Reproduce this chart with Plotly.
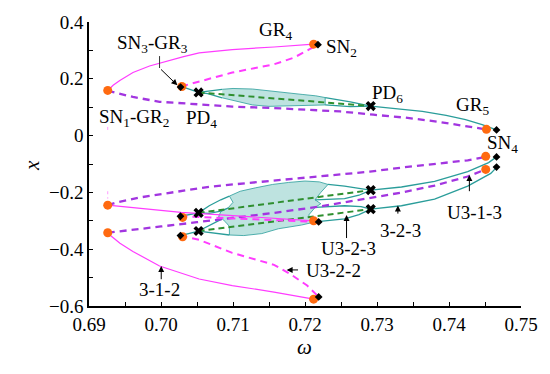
import plotly.graph_objects as go

# ---------------- data ----------------
# upper component
MAG_U_W = [0.6926, 0.69335, 0.69428, 0.69611, 0.69841, 0.70072, 0.70301, 0.7053, 0.7099, 0.7157, 0.7212]
MAG_U_X = [0.159, 0.177, 0.194, 0.222, 0.245, 0.262, 0.277, 0.291, 0.303, 0.312, 0.322]
MAGD_U_W = [0.7028, 0.7099, 0.7157, 0.7185, 0.7207, 0.7218]
MAGD_U_X = [0.173, 0.222, 0.251, 0.275, 0.305, 0.320]
PUR_U_W = [0.6926, 0.6929, 0.6961, 0.6998, 0.7053, 0.7099, 0.7157, 0.7202, 0.7249, 0.7295, 0.7340, 0.7387, 0.7432, 0.7451]
PUR_U_X = [0.159, 0.156, 0.136, 0.119, 0.110, 0.102, 0.097, 0.091, 0.085, 0.0735, 0.063, 0.048, 0.031, 0.022]
TEAL_U_HEAD_W = [0.7028, 0.70522]
TEAL_U_HEAD_X = [0.173, 0.152]
TEAL_U_TAIL_W = [0.72913, 0.7340, 0.7363, 0.7396, 0.7423, 0.7446, 0.7466]
TEAL_U_TAIL_X = [0.104, 0.091, 0.085, 0.071, 0.056, 0.039, 0.020]
GRN_U_W = [0.70522, 0.72913]
GRN_U_X = [0.152, 0.104]
LENS_U = [
    ([0.70522, 0.7065, 0.7085], [0.152, 0.157, 0.163]),
    ([0.70522, 0.7065, 0.7085], [0.152, 0.148, 0.133]),
    ([0.7228, 0.7263, 0.72913], [0.134, 0.119, 0.104]),
    ([0.7228, 0.7263, 0.72913], [0.108, 0.102, 0.104]),
]
CHAOS_U_W = [0.7085, 0.7100, 0.7127, 0.7150, 0.7175, 0.7196, 0.7215, 0.7228,
             0.7228, 0.7215, 0.7196, 0.7175, 0.7150, 0.7127, 0.7100, 0.7085]
CHAOS_U_X = [0.163, 0.166, 0.164, 0.157, 0.151, 0.145, 0.140, 0.134,
             0.108, 0.107, 0.107, 0.104, 0.103, 0.108, 0.125, 0.133]

# lower component A
MAG_A_W = [0.6926, 0.6975, 0.7028, 0.7100, 0.7150, 0.7212]
MAG_A_X = [-0.245, -0.258, -0.270, -0.282, -0.290, -0.300]
MAGD_A_W = [0.7027, 0.7100, 0.7160, 0.7219]
MAGD_A_X = [-0.284, -0.292, -0.298, -0.304]
PUR_A_W = [0.6926, 0.6938, 0.6970, 0.7016, 0.7067, 0.7150, 0.7220, 0.7290, 0.7333, 0.7380, 0.7426, 0.7452]
PUR_A_X = [-0.245, -0.236, -0.218, -0.200, -0.180, -0.160, -0.143, -0.127, -0.113, -0.101, -0.087, -0.075]
TEAL_A_HEAD_W = [0.7027, 0.70522]
TEAL_A_HEAD_X = [-0.284, -0.272]
TEAL_A_TAIL_W = [0.72913, 0.7334, 0.7380, 0.7426, 0.7455, 0.7466]
TEAL_A_TAIL_X = [-0.192, -0.181, -0.161, -0.127, -0.095, -0.075]
GRN_A_W = [0.70522, 0.72913]
GRN_A_X = [-0.272, -0.192]

# lower component B
MAG_B_W = [0.6926, 0.6929, 0.6943, 0.6961, 0.6998, 0.7053, 0.7099, 0.7157, 0.7212]
MAG_B_X = [-0.342, -0.350, -0.379, -0.408, -0.459, -0.505, -0.528, -0.551, -0.576]
MAGD_B_W = [0.7027, 0.7053, 0.7099, 0.7157, 0.7180, 0.7203, 0.7219]
MAGD_B_X = [-0.352, -0.367, -0.413, -0.455, -0.488, -0.528, -0.568]
PUR_B_W = [0.6926, 0.6950, 0.7000, 0.7050, 0.7100, 0.7157, 0.7220, 0.7288, 0.7333, 0.7380, 0.7426, 0.7451]
PUR_B_X = [-0.342, -0.334, -0.320, -0.305, -0.290, -0.272, -0.250, -0.222, -0.201, -0.176, -0.144, -0.119]
TEAL_B_HEAD_W = [0.7027, 0.70522]
TEAL_B_HEAD_X = [-0.352, -0.336]
TEAL_B_TAIL_W = [0.72913, 0.7334, 0.7380, 0.7426, 0.7458, 0.7466]
TEAL_B_TAIL_X = [-0.259, -0.247, -0.224, -0.178, -0.133, -0.112]
GRN_B_W = [0.70522, 0.72913]
GRN_B_X = [-0.336, -0.259]

LENS_L = [
    ([0.70522, 0.7067, 0.7083, 0.7095], [-0.272, -0.247, -0.226, -0.213]),
    ([0.70522, 0.7067, 0.7083, 0.7093], [-0.272, -0.274, -0.266, -0.255]),
    ([0.70522, 0.7067, 0.7085], [-0.336, -0.316, -0.293]),
    ([0.70522, 0.7067, 0.7083, 0.7095], [-0.336, -0.340, -0.346, -0.350]),
    ([0.7232, 0.7255, 0.7275, 0.72913], [-0.172, -0.178, -0.186, -0.192]),
    ([0.7214, 0.7255, 0.7275, 0.72913], [-0.226, -0.222, -0.210, -0.192]),
    ([0.7214, 0.7255, 0.7278, 0.72913], [-0.253, -0.247, -0.250, -0.259]),
    ([0.7214, 0.7255, 0.7275, 0.72913], [-0.304, -0.293, -0.278, -0.259]),
]
CHAOS_L_W = [0.7095, 0.7110, 0.7131, 0.7155, 0.7177, 0.7200, 0.7220, 0.7232,
             0.7222, 0.7214, 0.7222, 0.7214, 0.7205, 0.7214,
             0.7195, 0.7163, 0.7140, 0.7115, 0.7095,
             0.7095, 0.7090, 0.7085, 0.7080, 0.7083, 0.7093, 0.7100, 0.7095]
CHAOS_L_X = [-0.213, -0.196, -0.184, -0.172, -0.165, -0.160, -0.163, -0.172,
             -0.200, -0.226, -0.240, -0.253, -0.280, -0.304,
             -0.315, -0.328, -0.345, -0.352, -0.350,
             -0.320, -0.305, -0.293, -0.285, -0.268, -0.255, -0.235, -0.213]

# special points
GR_W = [0.6926, 0.7029, 0.7212, 0.7452, 0.6926, 0.6926, 0.7030, 0.7030, 0.7212, 0.7212, 0.7451, 0.7451]
GR_X = [0.159, 0.173, 0.322, 0.022, -0.245, -0.342, -0.288, -0.356, -0.300, -0.576, -0.073, -0.119]
SN_W = [0.70272, 0.7218, 0.7466, 0.7027, 0.7027, 0.7219, 0.7219, 0.7466, 0.7466]
SN_X = [0.171, 0.320, 0.020, -0.284, -0.352, -0.304, -0.568, -0.075, -0.111]
PD_W = [0.70522, 0.72913, 0.70522, 0.70522, 0.72913, 0.72913]
PD_X = [0.152, 0.104, -0.272, -0.336, -0.192, -0.259]

# faint dotted remnants at the left turning point
FAINT_W = [[0.6926, 0.6926], [0.6926, 0.6926]]
FAINT_X = [[0.020, 0.032], [-0.196, -0.222]]

XTICKS = [0.69, 0.70, 0.71, 0.72, 0.73, 0.74, 0.75]
XTICKTEXT = ["0.69", "0.70", "0.71", "0.72", "0.73", "0.74", "0.75"]
YTICKS = [-0.6, -0.4, -0.2, 0.0, 0.2, 0.4]
YTICKTEXT = ["\u22120.6", "\u22120.4", "\u22120.2", "0", "0.2", "0.4"]
XMINOR = [0.695, 0.705, 0.715, 0.725, 0.735, 0.745]
YMINOR = [-0.5, -0.3, -0.1, 0.1, 0.3]

# labels: (text, omega, x)
LABELS = [
    ("GR<sub>4</sub>", 0.7159, 0.369),
    ("SN<sub>2</sub>", 0.7251, 0.307),
    ("SN<sub>3</sub>-GR<sub>3</sub>", 0.6988, 0.321),
    ("SN<sub>1</sub>-GR<sub>2</sub>", 0.6962, 0.063),
    ("PD<sub>4</sub>", 0.7056, 0.060),
    ("PD<sub>6</sub>", 0.7315, 0.146),
    ("GR<sub>5</sub>", 0.7432, 0.104),
    ("SN<sub>4</sub>", 0.7474, -0.030),
    ("U3-1-3", 0.7435, -0.270),
    ("3-2-3", 0.7333, -0.335),
    ("U3-2-3", 0.7260, -0.397),
    ("U3-2-2", 0.7239, -0.476),
    ("3-1-2", 0.6998, -0.542),
]
# arrows: (head_w, head_x, tail_w, tail_x)
ARROWS = [
    (0.70228, 0.177, 0.6998, 0.238),
    (0.74283, -0.139, 0.74283, -0.201),
    (0.7329, -0.246, 0.7329, -0.280),
    (0.72577, -0.280, 0.72577, -0.366),
    (0.71745, -0.473, 0.71924, -0.473),
    (0.70003, -0.459, 0.70003, -0.511),
]
LEADER_W = [0.6998, 0.6998]
LEADER_X = [0.280, 0.238]

# ---------------- styles ----------------
MAGENTA = "#ff3cff"
PURPLE = "#a235e0"
TEAL = "#2a9d9a"
GREEN = "#2f8f2f"
ORANGE = "#ff6a10"
FONT = "Liberation Serif, DejaVu Serif, serif"

fig = go.Figure()

def line(w, x, color, width, dash="solid", opacity=1.0):
    fig.add_trace(go.Scatter(x=w, y=x, mode="lines", opacity=opacity,
                             line=dict(color=color, width=width, dash=dash),
                             hoverinfo="skip"))

# chaotic clouds
for cw, cx in [(CHAOS_U_W, CHAOS_U_X), (CHAOS_L_W, CHAOS_L_X)]:
    fig.add_trace(go.Scatter(x=cw, y=cx, mode="lines", fill="toself",
                             fillcolor="rgba(110,192,187,0.45)",
                             line=dict(color=TEAL, width=0.8), hoverinfo="skip"))

for f_w, f_x in zip(FAINT_W, FAINT_X):
    line(f_w, f_x, MAGENTA, 1, "dot", 0.5)

# teal stable branches
for w, x in [(TEAL_U_HEAD_W, TEAL_U_HEAD_X), (TEAL_U_TAIL_W, TEAL_U_TAIL_X),
             (TEAL_A_HEAD_W, TEAL_A_HEAD_X), (TEAL_A_TAIL_W, TEAL_A_TAIL_X),
             (TEAL_B_HEAD_W, TEAL_B_HEAD_X), (TEAL_B_TAIL_W, TEAL_B_TAIL_X)] + LENS_U + LENS_L:
    line(w, x, TEAL, 1.3)

# green unstable period-1 inside PD regions
for w, x in [(GRN_U_W, GRN_U_X), (GRN_A_W, GRN_A_X), (GRN_B_W, GRN_B_X)]:
    line(w, x, GREEN, 2, "6px,4px")

# purple dashed
for w, x in [(PUR_U_W, PUR_U_X), (PUR_A_W, PUR_A_X), (PUR_B_W, PUR_B_X)]:
    line(w, x, PURPLE, 2.3, "7px,5px")

# magenta
for w, x in [(MAG_U_W, MAG_U_X), (MAG_A_W, MAG_A_X), (MAG_B_W, MAG_B_X)]:
    line(w, x, MAGENTA, 1.2)
for w, x in [(MAGD_U_W, MAGD_U_X), (MAGD_A_W, MAGD_A_X), (MAGD_B_W, MAGD_B_X)]:
    line(w, x, MAGENTA, 2, "7px,5px")

# markers
fig.add_trace(go.Scatter(x=GR_W, y=GR_X, mode="markers",
                         marker=dict(color=ORANGE, size=9, symbol="circle"), hoverinfo="skip"))
fig.add_trace(go.Scatter(x=SN_W, y=SN_X, mode="markers",
                         marker=dict(color="black", size=6, symbol="diamond"), hoverinfo="skip"))
fig.add_trace(go.Scatter(x=PD_W, y=PD_X, mode="markers",
                         marker=dict(color="black", size=9, symbol="x"), hoverinfo="skip"))

# leader line of the bent arrow
line(LEADER_W, LEADER_X, "#333333", 1)

for txt, w, x in LABELS:
    fig.add_annotation(x=w, y=x, text=txt, showarrow=False, xanchor="center", yanchor="middle",
                       font=dict(family=FONT, size=19, color="black"))
for hw, hx, tw, tx in ARROWS:
    fig.add_annotation(x=hw, y=hx, ax=tw, ay=tx, axref="x", ayref="y", xref="x", yref="y",
                       text="", showarrow=True, arrowhead=2, arrowsize=1.2, arrowwidth=1,
                       arrowcolor="black")

# axis titles
fig.add_annotation(x=-0.163, y=0.495, xref="paper", yref="paper", text="<i>x</i>", showarrow=False,
                   textangle=-90, font=dict(family=FONT, size=21, color="black"))
fig.add_annotation(x=0.499, y=-0.192, xref="paper", yref="paper", text="<i>ω</i>", showarrow=False,
                   font=dict(family=FONT, size=21, color="black"))

axis_common = dict(showline=True, linecolor="black", linewidth=1.5, mirror=False,
                   showgrid=False, zeroline=False, ticks="inside", ticklen=4, tickwidth=1.3,
                   tickcolor="black", tickfont=dict(family=FONT, size=19, color="black"))
fig.update_xaxes(range=[0.69, 0.75], tickmode="array", tickvals=XTICKS, ticktext=XTICKTEXT,
                 minor=dict(tickmode="array", tickvals=XMINOR, ticks="inside", ticklen=4,
                            tickwidth=1.3, tickcolor="black", showgrid=False),
                 **axis_common)
fig.update_yaxes(range=[-0.6, 0.4], tickmode="array", tickvals=YTICKS, ticktext=YTICKTEXT,
                 minor=dict(tickmode="array", tickvals=YMINOR, ticks="inside", ticklen=4,
                            tickwidth=1.3, tickcolor="black", showgrid=False),
                 **axis_common)

fig.update_layout(width=550, height=374, margin=dict(l=89, r=26, t=15, b=68),
                  plot_bgcolor="white", paper_bgcolor="white", showlegend=False,
                  font=dict(family=FONT, size=19, color="black"))

fig.write_html("out.html")
